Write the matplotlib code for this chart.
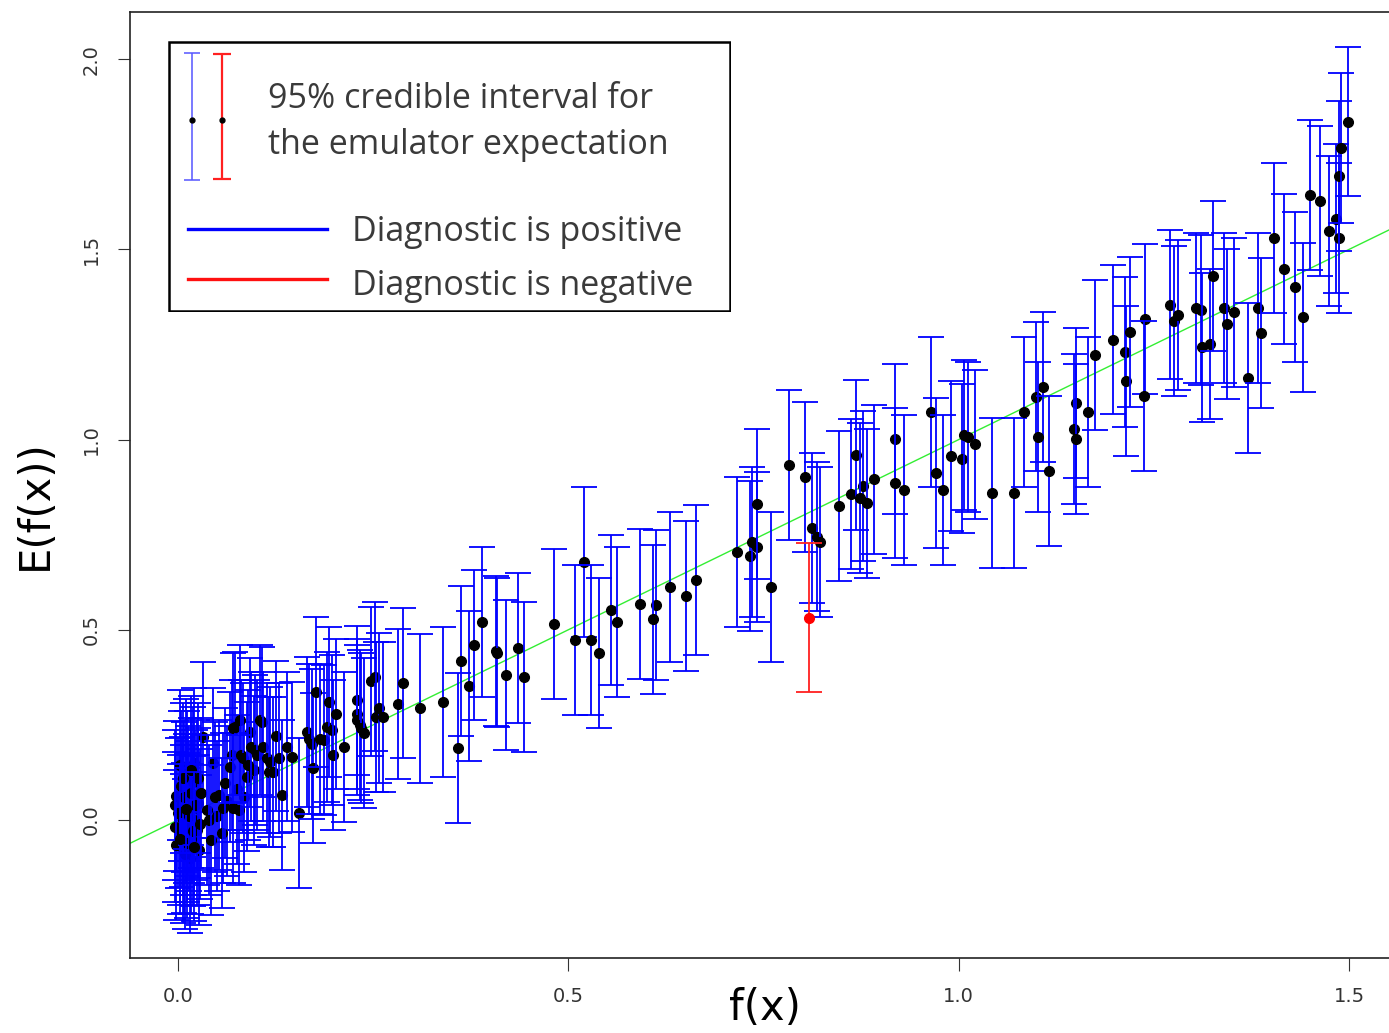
import matplotlib
matplotlib.use("Agg")
import matplotlib.pyplot as plt
from matplotlib.patches import Rectangle

# simulator output f(x) and emulator expectation E(f(x))
fx = [
    -0.004, -0.002, 0.000, -0.004, 0.003, -0.002, 0.006, 0.008, 0.007, 0.002,
    0.020, 0.024, 0.026, 0.027, 0.024, 0.012, 0.015, 0.018, 0.010, 0.016,
    0.021, 0.013, 0.011, 0.019, 0.004, 0.009, 0.032,
    0.005, 0.008, 0.012, 0.014, 0.017, 0.019, 0.022, 0.025, 0.028, 0.030,
    0.006, 0.016, 0.003, 0.021, 0.010,
    0.045, 0.050, 0.063, 0.069, 0.075, 0.085, 0.092, 0.097,
    0.037, 0.040, 0.042, 0.047, 0.052, 0.056, 0.058, 0.060, 0.067, 0.071,
    0.078, 0.070, 0.073, 0.079, 0.081, 0.083, 0.088, 0.090, 0.094, 0.099,
    0.101, 0.105, 0.108, 0.109, 0.114, 0.116, 0.118, 0.122, 0.125, 0.129,
    0.133, 0.139, 0.146, 0.155, 0.165, 0.168, 0.171, 0.173, 0.177, 0.182,
    0.187, 0.191, 0.193, 0.197, 0.198, 0.202, 0.212, 0.229, 0.229, 0.229,
    0.233, 0.235, 0.238, 0.247, 0.252, 0.253, 0.258, 0.262, 0.282, 0.288,
    0.310,
    0.339, 0.358, 0.363, 0.373, 0.379, 0.389, 0.407, 0.409, 0.420, 0.436,
    0.443, 0.482, 0.520, 0.508, 0.529, 0.539, 0.555, 0.562, 0.592, 0.612,
    0.608, 0.630, 0.650, 0.664, 0.716, 0.733, 0.735, 0.742, 0.741, 0.760,
    0.783, 0.803, 0.812, 0.818, 0.822, 0.847, 0.862, 0.868, 0.877, 0.874,
    0.882, 0.892, 0.918, 0.918, 0.930, 0.965, 0.971, 0.980, 0.990, 1.004,
    1.007, 1.012, 1.021, 1.043, 1.071, 1.084, 1.099, 1.108, 1.101, 1.116,
    1.150, 1.148, 1.150, 1.166, 1.175, 1.198, 1.213, 1.214, 1.219, 1.238,
    1.237, 1.270, 1.275, 1.281, 1.304, 1.310, 1.311, 1.322, 1.325, 1.340,
    1.343, 1.352, 1.370, 1.383, 1.387, 1.404, 1.416, 1.431, 1.441, 1.450,
    1.462, 1.474, 1.483, 1.487, 1.487, 1.489, 1.499,
]
efx = [
    0.039, 0.062, 0.018, -0.018, -0.026, -0.066, -0.075, -0.047, 0.000, 0.145,
    0.149, 0.066, 0.044, -0.079, -0.026, 0.090, -0.100, 0.030, 0.120, -0.050,
    0.000, 0.050, -0.020, 0.100, 0.090, -0.090, 0.218,
    0.020, 0.060, -0.060, 0.010, 0.070, -0.030, 0.040, 0.110, -0.010, 0.070,
    0.110, 0.130, -0.050, -0.070, 0.030,
    0.150, 0.010, 0.050, 0.170, 0.080, 0.060, 0.230, 0.130,
    0.026, 0.000, -0.053, 0.061, 0.066, -0.035, 0.031, 0.096, 0.140, 0.031,
    0.026, 0.241, 0.245, 0.263, 0.171, 0.162, 0.114, 0.145, 0.193, 0.184,
    0.171, 0.263, 0.258, 0.193, 0.162, 0.127, 0.153, 0.127, 0.221, 0.162,
    0.066, 0.193, 0.166, 0.018, 0.232, 0.213, 0.200, 0.136, 0.336, 0.213,
    0.210, 0.244, 0.311, 0.237, 0.171, 0.278, 0.191, 0.314, 0.279, 0.263,
    0.250, 0.241, 0.228, 0.364, 0.377, 0.270, 0.294, 0.270, 0.305, 0.359,
    0.293,
    0.311, 0.190, 0.418, 0.352, 0.460, 0.520, 0.444, 0.440, 0.380, 0.453,
    0.376, 0.514, 0.679, 0.473, 0.473, 0.439, 0.552, 0.520, 0.568, 0.566,
    0.527, 0.613, 0.588, 0.631, 0.704, 0.693, 0.731, 0.717, 0.830, 0.613,
    0.933, 0.902, 0.768, 0.745, 0.730, 0.826, 0.857, 0.959, 0.878, 0.847,
    0.832, 0.895, 1.001, 0.885, 0.867, 1.073, 0.911, 0.867, 0.957, 0.950,
    1.012, 1.007, 0.987, 0.860, 0.859, 1.073, 1.113, 1.139, 1.007, 0.918,
    1.095, 1.028, 1.001, 1.073, 1.222, 1.263, 1.231, 1.154, 1.283, 1.318,
    1.115, 1.355, 1.311, 1.327, 1.345, 1.340, 1.242, 1.252, 1.430, 1.345,
    1.304, 1.334, 1.162, 1.345, 1.279, 1.530, 1.449, 1.400, 1.321, 1.643,
    1.626, 1.548, 1.581, 1.530, 1.692, 1.767, 1.836,
]
half_width = 0.197   # half-length of the 95% credible interval

# the one point where the diagnostic fails
fx_bad = [0.808]
efx_bad = [0.532]

fig = plt.figure(figsize=(13.89, 10.33), dpi=100)
ax = fig.add_axes([130 / 1389, 75 / 1033, 1259 / 1389, 946 / 1033])

# green y = x reference line
ax.plot([-0.1, 1.6], [-0.1, 1.6], color='#33ee33', lw=1.0, zorder=1)

# bar then dot for each point, so later bars cover earlier dots
z = 2
for xv, yv in zip(fx, efx):
    ax.errorbar(xv, yv, yerr=half_width, fmt='none', ecolor='#0000ff',
                elinewidth=1.3, capsize=9.5, capthick=1.3, zorder=z)
    ax.plot(xv, yv, 'o', color='black', ms=7, zorder=z + 0.5)
    z += 1
for xv, yv in zip(fx_bad, efx_bad):
    ax.errorbar(xv, yv, yerr=half_width, fmt='none', ecolor='#ff2020',
                elinewidth=1.3, capsize=9.5, capthick=1.3, zorder=z)
    ax.plot(xv, yv, 'o', color='#ff0000', ms=7, zorder=z + 0.5)

ax.set_xlim(-0.0615, 1.551)
ax.set_ylim(-0.363, 2.124)
ax.set_xticks([0.0, 0.5, 1.0, 1.5])
ax.set_yticks([0.0, 0.5, 1.0, 1.5, 2.0])
ax.set_xticklabels(['0.0', '0.5', '1.0', '1.5'])
ax.set_yticklabels(['0.0', '0.5', '1.0', '1.5', '2.0'])

narrow = ['Liberation Sans Narrow', 'DejaVu Sans']
ax.tick_params(direction='out', length=9, width=0.8, color='#333333',
               labelsize=14, labelcolor='#333333', pad=12)
ax.tick_params(axis='y', labelrotation=90)
for lab in ax.get_xticklabels() + ax.get_yticklabels():
    lab.set_family(narrow)
for lab in ax.get_yticklabels():
    lab.set_va('center')

for s in ['left', 'top', 'bottom']:
    ax.spines[s].set_linewidth(1.2)
    ax.spines[s].set_color('#222222')
ax.spines['right'].set_visible(False)

ax.set_xlabel('f(x)', fontsize=30, family=narrow, va='center')
ax.xaxis.set_label_coords(0.504, -0.053)
ax.set_ylabel('E(f(x))', fontsize=30, family=narrow, va='center', ha='center')
ax.yaxis.set_label_coords(-0.0755, 0.479)

# legend box, drawn in its own little axes measured in pixels
lax = fig.add_axes([168 / 1389, 1 - 312 / 1033, 563 / 1389, 271 / 1033])
lax.set_xlim(0, 563)
lax.set_ylim(271, 0)
lax.axis('off')
lax.add_patch(Rectangle((1, 1), 561, 269, fill=False, ec='black', lw=1.8))
lax.errorbar([24], [79], yerr=[[67], [60]], fmt='none', ecolor='#5555ff',
             elinewidth=1.1, capsize=5.5, capthick=1.1)
lax.errorbar([54], [79], yerr=[[66], [59]], fmt='none', ecolor='#ff2020',
             elinewidth=1.6, capsize=6.5, capthick=1.6)
lax.plot([24, 54], [79, 79], 'o', color='black', ms=3.5)
lax.plot([20, 159], [188, 188], color='#0000ff', lw=2.4)
lax.plot([20, 159], [238, 238], color='#ff1010', lw=2.4)
txt = dict(fontsize=24.5, color='#3a3a3a', family=['Open Sans', 'DejaVu Sans'],
           va='center', ha='left')
lax.text(100, 58, '95% credible interval for', **txt)
lax.text(100, 104, 'the emulator expectation', **txt)
lax.text(184, 191, 'Diagnostic is positive', **txt)
lax.text(184, 245, 'Diagnostic is negative', **txt)

fig.savefig('out.png', dpi=100)
